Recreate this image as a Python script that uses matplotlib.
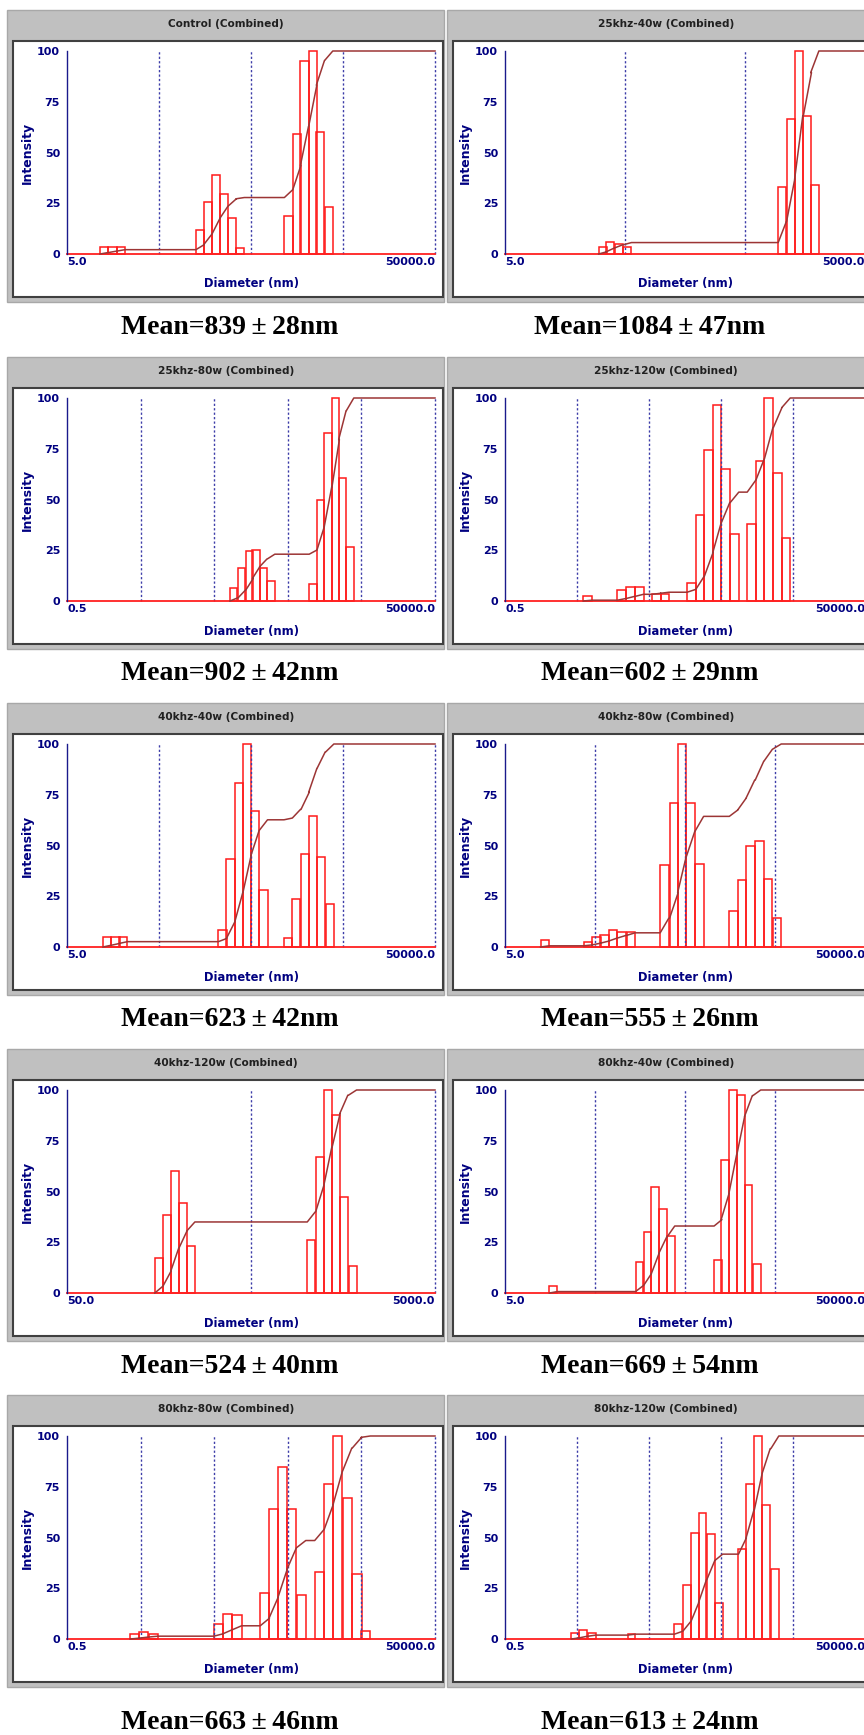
import numpy as np
import matplotlib.pyplot as plt
from matplotlib.patches import Rectangle
from matplotlib.ticker import NullLocator

plt.rcParams['font.family'] = ['DejaVu Sans']
plt.rcParams['font.weight'] = 'bold'

# panel titles, axis ranges and mean sizes
titles = ['Control', '25khz-40w', '25khz-80w', '25khz-120w', '40khz-40w',
          '40khz-80w', '40khz-120w', '80khz-40w', '80khz-80w', '80khz-120w']
means = ['Mean=839\u2009±\u200928nm', 'Mean=1084\u2009±\u200947nm', 'Mean=902\u2009±\u200942nm',
         'Mean=602\u2009±\u200929nm', 'Mean=623\u2009±\u200942nm', 'Mean=555\u2009±\u200926nm',
         'Mean=524\u2009±\u200940nm', 'Mean=669\u2009±\u200954nm', 'Mean=663\u2009±\u200946nm',
         'Mean=613\u2009±\u200924nm']
x_min = [5.0, 5.0, 0.5, 0.5, 5.0, 5.0, 50.0, 5.0, 0.5, 0.5]
x_max = [50000.0, 5000.0, 50000.0, 50000.0, 50000.0, 50000.0, 5000.0, 50000.0, 50000.0, 50000.0]

# histogram bins: left edge diameter (nm) and intensity
control_d = [11.4, 14.1, 17.4, 126, 153, 188, 230, 283, 345, 1153, 1420, 1720, 2118, 2565, 3158]
control_h = [3.5, 3.5, 3.5, 12, 25.5, 39, 29.5, 17.5, 3, 18.5, 59, 95, 100, 60, 23]

k25w40_d = [30.1, 34.9, 40.9, 48.4, 945, 1110, 1295, 1531, 1764]
k25w40_h = [3.5, 6, 5, 3.5, 33, 66.5, 100, 68, 34]

k25w80_d = [81.8, 105, 134, 165, 207, 264, 977, 1243, 1565, 1990, 2455, 3122]
k25w80_h = [6.3, 16.5, 24.4, 24.9, 16.5, 9.9, 8.4, 49.8, 83, 100, 60.8, 26.7]

k25w120_d = [6.12, 18.2, 24.0, 32.0, 55.6, 72.5, 169, 223, 294, 383, 505, 673,
             1156, 1524, 2007, 2673, 3485]
k25w120_h = [2.6, 5.3, 6.8, 6.8, 3.3, 3.3, 8.9, 42.5, 74.3, 96.5, 65.2, 33.1,
             38, 69.2, 100, 63.2, 31]

k40w40_d = [12.3, 15.2, 18.5, 221, 270, 332, 409, 500, 616, 1142, 1406, 1748, 2117, 2609, 3240]
k40w40_h = [4.8, 4.8, 4.8, 8.4, 43.5, 80.9, 100, 67.2, 28.3, 4.6, 23.4, 46, 64.3, 44.5, 21.4]

k40w80_d = [12.4, 37.3, 46.3, 57.4, 71.1, 88.9, 112, 265, 337, 414, 517, 647,
            1554, 1926, 2388, 3013, 3766, 4708]
k40w80_h = [3.3, 2.5, 4.8, 5.9, 8.4, 7.2, 7.2, 40.4, 70.7, 100, 70.7, 41,
            17.8, 33.1, 49.6, 52.4, 33.4, 14.3]

k40w120_d = [150, 166, 183, 203, 224, 1011, 1123, 1242, 1379, 1519, 1694]
k40w120_h = [17.4, 38.6, 60.3, 44.5, 23.2, 26.3, 66.9, 100, 87.7, 47.5, 13.4]

k80w40_d = [15.6, 141, 173, 211, 256, 315, 1053, 1260, 1534, 1884, 2294, 2842]
k80w40_h = [3.6, 15.2, 30, 52.2, 41.2, 28.3, 16.2, 65.4, 100, 97.4, 53, 14.2]

k80w80_d = [3.61, 4.79, 6.44, 49.5, 65.7, 88.2, 211, 278, 369, 490, 657,
            1160, 1557, 2068, 2776, 3764, 4947]
k80w80_h = [2.6, 3.3, 2.6, 7.2, 12.2, 11.9, 22.9, 63.8, 84.7, 63.8, 21.7,
            32.8, 76.6, 100, 69.4, 32, 4.1]

k80w120_d = [4.18, 5.38, 7.09, 25.2, 113, 147, 191, 244, 318, 409, 875, 1116, 1453, 1872, 2464]
k80w120_h = [3.1, 4.4, 3.1, 2.6, 7.6, 26.4, 52.2, 62.3, 51.6, 17.6, 44.5, 76.4, 100, 66.2, 34.4]

diam = [control_d, k25w40_d, k25w80_d, k25w120_d, k40w40_d,
        k40w80_d, k40w120_d, k80w40_d, k80w80_d, k80w120_d]
inten = [control_h, k25w40_h, k25w80_h, k25w120_h, k40w40_h,
         k40w80_h, k40w120_h, k80w40_h, k80w80_h, k80w120_h]
# bin width in decades
bin_w = [0.0885, 0.068, 0.101, 0.118, 0.089, 0.095, 0.0437, 0.0866, 0.1256, 0.110]

W, H = 864, 1735
NAVY = '#000080'
fig = plt.figure(figsize=(W / 100, H / 100), dpi=100)

row_top = [10, 357, 703, 1049, 1395]
mean_y = [328, 673, 1020, 1366, 1722]
col_x = [7, 447]
ax_left = [67, 505]
ax_width = [368, 360]
mean_x = [230, 650]


def draw_panel(k):
    r, c = k // 2, k % 2
    gx, gy = col_x[c], row_top[r]
    fig.add_artist(Rectangle((gx / W, 1 - (gy + 292) / H), 437 / W, 292 / H,
                             transform=fig.transFigure, facecolor='#c0c0c0',
                             edgecolor='#a8a8a8', lw=1, zorder=-2))
    fig.add_artist(Rectangle(((gx + 6) / W, 1 - (gy + 287) / H), 430 / W, 256 / H,
                             transform=fig.transFigure, facecolor='white',
                             edgecolor='#404040', lw=1.5, zorder=-1))
    fig.text((gx + 219) / W, 1 - (gy + 14) / H, titles[k] + ' (Combined)',
             ha='center', va='center', fontsize=7.6, color='#202020')
    fig.text(mean_x[c] / W, 1 - mean_y[r] / H, means[k], ha='center', va='center',
             family=['Liberation Serif', 'DejaVu Serif'], fontsize=20, fontweight='bold')

    aw = ax_width[c]
    ax = fig.add_axes([ax_left[c] / W, 1 - (gy + 244) / H, aw / W, 203 / H])
    ax.set_zorder(2)
    ax.patch.set_visible(False)
    ax.set_xscale('log')
    lo, hi = x_min[k], x_max[k]
    ax.set_xlim(lo, hi)
    ax.set_ylim(0, 100)

    d = np.array(diam[k])
    h = np.array(inten[k])
    right = d * 10 ** bin_w[k]

    # decade lines
    n = int(round(np.log10(hi / lo)))
    ax.vlines(lo * 10.0 ** np.arange(1, n + 1), 0, 100, colors='#3c3ca8',
              linestyles=(0, (1.6, 1.6)), lw=1.0, clip_on=False)
    ax.axhline(0, color='#ff2020', lw=1.3, clip_on=False)
    ax.bar(d, h, width=right - d, align='edge', facecolor='none',
           edgecolor='#ff1a1a', lw=1.1, clip_on=False)

    # cumulative curve
    cum = np.cumsum(h) / h.sum() * 100
    before = np.concatenate([[0], cum[:-1]])
    cx = np.column_stack([d, right]).ravel()
    cy = np.column_stack([before, cum]).ravel()
    cx = np.append(cx, hi)
    cy = np.append(cy, 100)
    ax.plot(cx, cy, color='#9c3535', lw=1.1, clip_on=False)

    for s in ['top', 'right', 'bottom']:
        ax.spines[s].set_visible(False)
    ax.spines['left'].set_color('#1a1a8c')
    ax.spines['left'].set_linewidth(1.0)

    ax.set_yticks([0, 25, 50, 75, 100])
    ax.tick_params(axis='y', length=0, pad=5, labelcolor=NAVY, labelsize=8)
    ax.set_xticks([lo, hi], labels=[f'{lo:.1f}', f'{hi:.1f}'])
    ax.xaxis.set_minor_locator(NullLocator())
    ax.tick_params(axis='x', length=0, pad=2, labelcolor=NAVY, labelsize=8)
    xl = ax.get_xticklabels()
    xl[0].set_horizontalalignment('left')
    xl[1].set_horizontalalignment('right')

    ax.text(0.5, -30 / 203, 'Diameter (nm)', transform=ax.transAxes,
            ha='center', va='center', color=NAVY, fontsize=8.3)
    ax.text(-40 / aw, 0.5, 'Intensity', transform=ax.transAxes, rotation=90,
            ha='center', va='center', color=NAVY, fontsize=9)


for k in range(10):
    draw_panel(k)

fig.savefig('out.png', dpi=100)
